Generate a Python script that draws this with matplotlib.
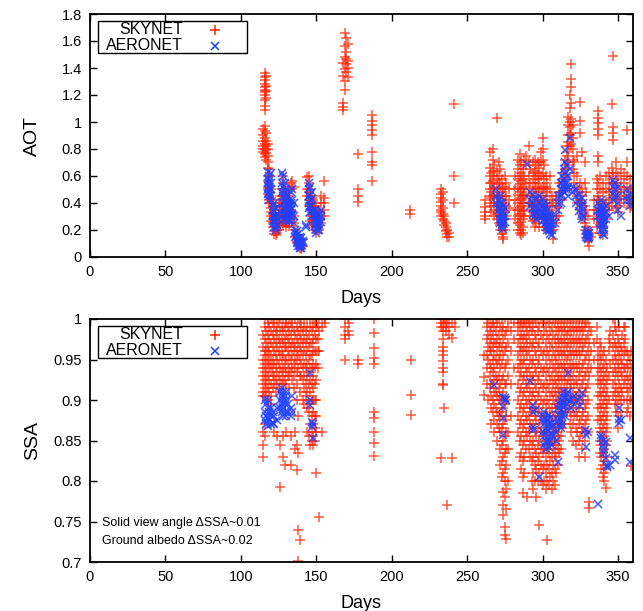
import matplotlib
matplotlib.use("Agg")
import matplotlib.pyplot as plt
from matplotlib.patches import Rectangle
from matplotlib.lines import Line2D

plt.rcParams['font.family'] = ['Liberation Sans', 'DejaVu Sans']

# ---------------- DATA ----------------
# Top panel: AOT, SKYNET (day -> list of values)
sky_aot_days = [115, 116, 117, 118, 119, 120, 121, 122, 123, 124, 125, 126, 127, 128, 129, 130,
                131, 132, 133, 134, 135, 136, 137, 138, 139, 140, 141, 144, 145, 146, 147, 148,
                149, 150, 151, 152, 153, 155, 168, 169, 170, 171, 178, 187, 212, 233, 234, 235,
                236, 237, 238, 241, 262, 265, 266, 267, 268, 270, 271, 272, 273, 274, 275, 276,
                278, 282, 284, 285, 286, 287, 288, 289, 291, 292, 294, 295, 296, 297, 298, 299,
                300, 301, 302, 303, 305, 306, 307, 309, 311, 313, 315, 316, 317, 318, 319, 320,
                321, 323, 325, 326, 328, 329, 330, 331, 332, 334, 336, 337, 338, 340, 342, 344,
                346, 347, 349, 350, 352, 354, 356, 358, 359]
sky_aot_vals = [
    [0.95, 0.9, 0.86, 0.82, 0.8, 0.78],
    [1.36, 1.33, 1.31, 1.28, 1.26, 1.24, 1.22, 1.2, 1.16, 1.12, 1.09, 0.97, 0.93, 0.88, 0.84, 0.8, 0.76, 0.74],
    [1.34, 1.27, 1.23, 1.18, 0.92, 0.86, 0.82, 0.79, 0.77, 0.72],
    [0.84, 0.8, 0.75, 0.7, 0.66, 0.6, 0.56, 0.52, 0.5, 0.47],
    [0.65, 0.6, 0.55, 0.52, 0.48, 0.45, 0.42, 0.4],
    [0.5, 0.44, 0.4, 0.36, 0.33, 0.3, 0.27],
    [0.42, 0.38, 0.32, 0.28, 0.25, 0.22],
    [0.35, 0.3, 0.26, 0.22, 0.19, 0.17],
    [0.3, 0.26, 0.22, 0.19, 0.16],
    [0.25, 0.2, 0.18],
    [0.4, 0.35, 0.3, 0.25, 0.2],
    [0.45, 0.38, 0.32, 0.27, 0.23],
    [0.5, 0.45, 0.4, 0.35, 0.3, 0.27],
    [0.6, 0.55, 0.5, 0.42, 0.35, 0.3, 0.27, 0.24],
    [0.48, 0.4, 0.35, 0.3, 0.26],
    [0.45, 0.4, 0.36, 0.33, 0.28, 0.25, 0.22],
    [0.5, 0.42, 0.37, 0.3, 0.25],
    [0.52, 0.45, 0.4, 0.34, 0.3, 0.26, 0.23],
    [0.55, 0.4, 0.35, 0.3],
    [0.56, 0.5, 0.33, 0.28],
    [0.52, 0.3, 0.25],
    [0.2, 0.15],
    [0.16, 0.12, 0.1],
    [0.14, 0.11, 0.08],
    [0.12, 0.09, 0.07],
    [0.1, 0.07, 0.06],
    [0.13, 0.08],
    [0.59, 0.5, 0.45],
    [0.6, 0.55, 0.48, 0.42, 0.38],
    [0.5, 0.45, 0.4, 0.35, 0.3, 0.27],
    [0.44, 0.38, 0.33, 0.28, 0.24],
    [0.42, 0.36, 0.3, 0.26, 0.22],
    [0.4, 0.35, 0.3, 0.25, 0.2],
    [0.38, 0.33, 0.28, 0.22, 0.18],
    [0.35, 0.3, 0.26, 0.22],
    [0.33, 0.28, 0.24, 0.2],
    [0.45, 0.4, 0.3, 0.25],
    [0.56, 0.44, 0.4, 0.35, 0.3],
    [1.44, 1.34, 1.14, 1.11, 1.09],
    [1.66, 1.56, 1.48, 1.39, 1.3, 1.24],
    [1.62, 1.52, 1.47, 1.43, 1.37],
    [1.58, 1.45, 1.4, 1.33],
    [0.76, 0.5, 0.45, 0.41],
    [1.05, 1.01, 0.98, 0.94, 0.9, 0.78, 0.7, 0.68, 0.56],
    [0.35, 0.32],
    [0.5, 0.47, 0.44, 0.41, 0.38, 0.35, 0.33, 0.3],
    [0.48, 0.42, 0.36, 0.32, 0.28],
    [0.3, 0.27, 0.24],
    [0.25, 0.22, 0.19],
    [0.2, 0.17, 0.15],
    [0.18, 0.15],
    [1.13, 0.6, 0.4],
    [0.42, 0.37, 0.33, 0.3, 0.28],
    [0.78, 0.66, 0.6, 0.55, 0.5, 0.45, 0.4],
    [0.62, 0.55, 0.48, 0.44, 0.38, 0.33],
    [0.8, 0.72, 0.64, 0.56, 0.5, 0.45],
    [0.68, 0.6, 0.52, 0.46, 0.4, 0.35, 0.3],
    [1.03, 0.64, 0.58, 0.5, 0.44, 0.38, 0.32, 0.28],
    [0.7, 0.6, 0.54, 0.45, 0.4, 0.35, 0.3, 0.25],
    [0.65, 0.55, 0.48, 0.4, 0.3, 0.24, 0.2],
    [0.58, 0.5, 0.42, 0.35, 0.25, 0.2, 0.17],
    [0.5, 0.45, 0.3, 0.22, 0.15, 0.13],
    [0.6, 0.52, 0.45, 0.4, 0.33, 0.28, 0.2],
    [0.55, 0.45, 0.38, 0.3],
    [0.5, 0.42, 0.36],
    [0.6, 0.5, 0.42, 0.35, 0.28],
    [0.72, 0.65, 0.58, 0.52, 0.46, 0.4, 0.35, 0.3, 0.25, 0.2],
    [0.76, 0.68, 0.6, 0.54, 0.48, 0.42, 0.36, 0.3, 0.24, 0.18],
    [0.7, 0.62, 0.56, 0.5, 0.44, 0.38, 0.32, 0.26, 0.2, 0.16],
    [0.65, 0.58, 0.5, 0.45, 0.4, 0.34, 0.28, 0.22, 0.18],
    [0.72, 0.6, 0.52, 0.46, 0.4, 0.35, 0.3],
    [0.75, 0.68, 0.55, 0.45],
    [0.82, 0.7, 0.6, 0.5, 0.4],
    [0.65, 0.55, 0.45, 0.38, 0.3],
    [0.7, 0.62, 0.55, 0.48, 0.4, 0.33, 0.27],
    [0.72, 0.64, 0.58, 0.5, 0.42, 0.35, 0.28, 0.22],
    [0.68, 0.6, 0.52, 0.45, 0.38, 0.3, 0.25],
    [0.7, 0.62, 0.55, 0.48, 0.4, 0.32],
    [0.66, 0.58, 0.5, 0.42, 0.35, 0.28, 0.22],
    [0.78, 0.7, 0.6, 0.5, 0.42],
    [0.88, 0.8, 0.72, 0.62, 0.52, 0.45, 0.38, 0.3],
    [0.68, 0.58, 0.5, 0.42, 0.35, 0.28, 0.22],
    [0.6, 0.52, 0.45, 0.38, 0.3, 0.25, 0.2],
    [0.55, 0.48, 0.4, 0.34, 0.28, 0.22],
    [0.6, 0.5, 0.42, 0.35, 0.28, 0.22],
    [0.45, 0.38, 0.3, 0.25, 0.2],
    [0.4, 0.3, 0.2, 0.13],
    [0.45, 0.38, 0.3, 0.25],
    [0.55, 0.48, 0.42, 0.36, 0.3],
    [0.62, 0.55, 0.48, 0.42],
    [0.72, 0.65, 0.58, 0.5],
    [0.82, 0.75, 0.68, 0.6],
    [1.04, 0.98, 0.9, 0.85, 0.78, 0.7],
    [1.2, 1.1, 1.0, 0.96, 0.9, 0.82],
    [1.43, 1.32, 1.26, 1.14, 1.02, 0.92, 0.84],
    [0.98, 0.88, 0.8, 0.72, 0.65],
    [0.7, 0.62, 0.55, 0.5],
    [0.75, 0.6, 0.52, 0.45, 0.4],
    [1.15, 1.01, 0.92, 0.55, 0.48, 0.42, 0.35],
    [0.78, 0.5, 0.45, 0.4, 0.32, 0.28],
    [0.7, 0.55, 0.38, 0.3, 0.25, 0.2],
    [0.48, 0.35, 0.22, 0.17, 0.14],
    [0.3, 0.2, 0.15, 0.12],
    [0.16, 0.13, 0.08],
    [0.18, 0.15],
    [0.42, 0.35, 0.28],
    [0.58, 0.5, 0.42, 0.35, 0.28, 0.22],
    [1.08, 1.03, 0.99, 0.95, 0.9, 0.75, 0.7, 0.55, 0.45, 0.35],
    [0.6, 0.5, 0.42, 0.36, 0.3, 0.24, 0.18],
    [0.55, 0.48, 0.4, 0.34, 0.28, 0.22, 0.16],
    [0.6, 0.5, 0.42, 0.35, 0.28],
    [0.62, 0.55, 0.48, 0.4, 0.35],
    [1.13, 0.66, 0.58, 0.5, 0.44, 0.38],
    [1.49, 0.96, 0.92, 0.87, 0.62, 0.55, 0.46],
    [0.7, 0.62, 0.55, 0.48, 0.42, 0.36],
    [0.6, 0.52, 0.45, 0.38, 0.33],
    [0.65, 0.58, 0.5, 0.43],
    [0.62, 0.55, 0.48, 0.4],
    [0.94, 0.7, 0.6, 0.52, 0.45],
    [0.58, 0.5, 0.42, 0.36],
    [0.5, 0.44, 0.38],
]

# Top panel: AOT, AERONET
aer_aot_days = [118, 119, 120, 121, 122, 123, 124, 127, 128, 129, 130, 131, 132, 133, 134, 135,
                136, 137, 138, 139, 140, 141, 143, 145, 146, 147, 149, 150, 151, 152, 153,
                269, 271, 272, 273, 274, 275, 290, 292, 294, 295, 296, 298, 300, 301, 302,
                303, 304, 305, 306, 308, 310, 312, 313, 314, 315, 316, 317, 318, 320, 322,
                324, 326, 327, 329, 330, 331, 337, 338, 339, 340, 341, 342, 344, 347, 348,
                350, 352, 356, 358]
aer_aot_vals = [
    [0.63, 0.58, 0.55, 0.5, 0.47],
    [0.6, 0.56, 0.52, 0.48, 0.45, 0.42],
    [0.62, 0.55, 0.5, 0.45],
    [0.38, 0.35, 0.3, 0.27],
    [0.4, 0.34, 0.3, 0.25, 0.22],
    [0.36, 0.3, 0.26, 0.22, 0.2],
    [0.32, 0.28, 0.24],
    [0.62, 0.55, 0.48],
    [0.6, 0.52, 0.45, 0.4, 0.35, 0.3],
    [0.55, 0.48, 0.42, 0.36, 0.32, 0.28],
    [0.5, 0.45, 0.4, 0.35, 0.3, 0.27],
    [0.45, 0.4, 0.36, 0.32, 0.28],
    [0.42, 0.38, 0.34, 0.3, 0.27],
    [0.48, 0.4, 0.35, 0.3],
    [0.5, 0.42, 0.36, 0.32],
    [0.4, 0.3, 0.25],
    [0.2, 0.18, 0.15],
    [0.19, 0.16, 0.13, 0.11],
    [0.17, 0.14, 0.12, 0.1, 0.08],
    [0.15, 0.12, 0.1, 0.08, 0.07],
    [0.14, 0.11, 0.09, 0.07],
    [0.12, 0.1],
    [0.24, 0.22],
    [0.55, 0.5, 0.45, 0.4, 0.36],
    [0.52, 0.46, 0.42, 0.38, 0.33],
    [0.48, 0.43, 0.38, 0.34, 0.3],
    [0.35, 0.3, 0.27, 0.23],
    [0.33, 0.28, 0.25, 0.21, 0.18],
    [0.3, 0.26, 0.22, 0.2],
    [0.32, 0.28, 0.24, 0.2],
    [0.35, 0.3, 0.26],
    [0.5, 0.45, 0.4],
    [0.42, 0.38, 0.35],
    [0.45, 0.4, 0.36, 0.32, 0.28, 0.25],
    [0.4, 0.35, 0.3, 0.27, 0.24, 0.22],
    [0.38, 0.33, 0.28, 0.25, 0.21],
    [0.36, 0.3, 0.26],
    [0.69],
    [0.48, 0.42, 0.38],
    [0.46, 0.4, 0.36, 0.32],
    [0.44, 0.38, 0.34, 0.3],
    [0.42, 0.36, 0.32, 0.28],
    [0.45, 0.4, 0.35, 0.3],
    [0.43, 0.38, 0.34, 0.3, 0.27],
    [0.4, 0.36, 0.32, 0.28],
    [0.38, 0.34, 0.3, 0.26, 0.22],
    [0.35, 0.3, 0.26, 0.22, 0.2],
    [0.32, 0.28, 0.24, 0.2],
    [0.3, 0.25, 0.2, 0.17],
    [0.25, 0.2, 0.16],
    [0.3, 0.25],
    [0.45, 0.4, 0.35],
    [0.55, 0.5, 0.45, 0.4],
    [0.6, 0.55, 0.5, 0.46],
    [0.65, 0.58, 0.52, 0.48],
    [0.79, 0.7, 0.62, 0.55, 0.5],
    [0.68, 0.6, 0.55, 0.5],
    [0.6, 0.52, 0.45],
    [0.88, 0.65],
    [0.52, 0.48],
    [0.5, 0.45, 0.4],
    [0.46, 0.42, 0.38, 0.34],
    [0.44, 0.38, 0.32, 0.28],
    [0.4, 0.35, 0.3],
    [0.2, 0.17, 0.15],
    [0.19, 0.16, 0.14, 0.13],
    [0.18, 0.15],
    [0.4, 0.35, 0.3],
    [0.38, 0.34, 0.3, 0.25],
    [0.42, 0.36, 0.32, 0.28, 0.24, 0.2],
    [0.4, 0.35, 0.3, 0.26, 0.22, 0.17],
    [0.36, 0.32, 0.28, 0.24, 0.2, 0.16],
    [0.38, 0.33, 0.28],
    [0.3],
    [0.57, 0.52, 0.47, 0.42],
    [0.55, 0.5, 0.45],
    [0.52, 0.45, 0.4, 0.35],
    [0.3],
    [0.5, 0.45, 0.42],
    [0.47, 0.42, 0.38],
]

# Bottom panel: SSA, SKYNET
sky_ssa_days = [115, 116, 117, 118, 119, 120, 121, 122, 123, 124, 125, 126, 127, 128, 129, 130,
                131, 132, 133, 134, 135, 136, 137, 138, 139, 140, 141, 142, 143, 144, 145, 146,
                147, 148, 149, 150, 151, 152, 154, 156, 169, 171, 172, 178, 188, 213, 233, 234,
                235, 236, 237, 238, 240, 242,
                261, 263, 264, 265, 266, 267, 268, 269, 270, 271, 272, 273, 274, 275, 276, 277,
                279, 281, 284, 285, 286, 287, 288, 289, 290, 291, 292, 293, 294, 295, 296, 297,
                298, 299, 300, 301, 302, 303, 304, 305, 306, 307, 308, 309, 310, 311, 312, 313,
                314, 315, 316, 317, 318, 319, 320, 321, 322, 323, 324, 325, 326, 327, 328, 329,
                330, 331, 332, 334, 336, 337, 338, 339, 340, 341, 342, 343, 344, 345, 347, 348,
                349, 350, 351, 352, 353, 354, 355, 356, 357, 358, 359]
sky_ssa_vals = [
    [0.98, 0.965, 0.95, 0.94, 0.93, 0.92, 0.91, 0.905, 0.86, 0.845, 0.83],
    [1.0, 0.99, 0.975, 0.96, 0.955, 0.945, 0.935, 0.925, 0.915, 0.905, 0.87, 0.855],
    [0.985, 0.97, 0.96, 0.95, 0.94, 0.93, 0.92, 0.91],
    [1.0, 0.995, 0.98, 0.965, 0.955, 0.945, 0.93, 0.915, 0.9],
    [0.99, 0.975, 0.96, 0.95, 0.94, 0.925, 0.91],
    [1.0, 0.985, 0.97, 0.955, 0.945, 0.935, 0.92, 0.905, 0.895],
    [0.995, 0.98, 0.965, 0.95, 0.94, 0.93, 0.915],
    [1.0, 0.99, 0.975, 0.96, 0.945, 0.93, 0.92, 0.86],
    [0.985, 0.97, 0.955, 0.94, 0.925, 0.91],
    [1.0, 0.99, 0.98, 0.965, 0.95, 0.935, 0.92, 0.855],
    [0.995, 0.975, 0.96, 0.945, 0.93, 0.915],
    [1.0, 0.985, 0.97, 0.955, 0.94, 0.925, 0.845, 0.793],
    [0.99, 0.975, 0.96, 0.95, 0.935, 0.92],
    [1.0, 0.985, 0.97, 0.955, 0.94, 0.93, 0.92, 0.855, 0.83],
    [0.99, 0.975, 0.965, 0.95, 0.94, 0.925, 0.82],
    [1.0, 0.995, 0.98, 0.965, 0.95, 0.935, 0.92, 0.86],
    [0.99, 0.975, 0.96, 0.945, 0.93],
    [1.0, 0.985, 0.97, 0.955, 0.94, 0.93, 0.915],
    [0.995, 0.98, 0.965, 0.95, 0.935, 0.855, 0.82],
    [1.0, 0.99, 0.97, 0.955, 0.94, 0.925],
    [0.985, 0.97, 0.96, 0.945, 0.93, 0.915],
    [1.0, 0.98, 0.965, 0.95, 0.94, 0.86, 0.84],
    [0.99, 0.975, 0.96, 0.95, 0.935, 0.92, 0.9, 0.845, 0.813],
    [1.0, 0.985, 0.97, 0.955, 0.94, 0.88, 0.835, 0.74, 0.701],
    [0.995, 0.98, 0.965, 0.95, 0.93, 0.91, 0.727],
    [1.0, 0.99, 0.975, 0.96, 0.945, 0.93],
    [0.985, 0.97, 0.955, 0.94, 0.925, 0.9],
    [1.0, 0.99, 0.975, 0.96, 0.945, 0.93, 0.915, 0.895],
    [0.985, 0.97, 0.955, 0.94, 0.92, 0.905],
    [1.0, 0.99, 0.975, 0.96, 0.945, 0.93, 0.91, 0.89, 0.86],
    [0.98, 0.965, 0.95, 0.935, 0.92, 0.9, 0.885, 0.855],
    [1.0, 0.99, 0.97, 0.955, 0.94, 0.925, 0.91, 0.895, 0.87, 0.845],
    [0.985, 0.97, 0.955, 0.94, 0.92, 0.9, 0.88, 0.86, 0.85],
    [1.0, 0.99, 0.975, 0.96, 0.945, 0.93, 0.915, 0.9, 0.885, 0.87, 0.855, 0.845],
    [0.995, 0.98, 0.96, 0.94, 0.92, 0.9, 0.88, 0.865, 0.85],
    [1.0, 0.99, 0.975, 0.96, 0.945, 0.925, 0.9, 0.88, 0.86, 0.81],
    [0.99, 0.975, 0.96, 0.94],
    [1.0, 0.985, 0.96, 0.756],
    [1.0, 0.99, 0.86],
    [1.0, 0.995],
    [1.0, 0.99, 0.98, 0.975, 0.95],
    [1.0, 0.985],
    [0.995, 0.98],
    [0.95, 0.945],
    [1.0, 0.983, 0.964, 0.952, 0.945, 0.885, 0.878, 0.86, 0.847, 0.831],
    [0.95, 0.906, 0.881],
    [1.0, 0.995, 0.99, 0.828],
    [1.0, 0.99, 0.985, 0.975, 0.965, 0.96, 0.955, 0.948, 0.94, 0.935, 0.92, 0.918],
    [1.0, 0.995, 0.89],
    [1.0, 0.99, 0.985],
    [0.995, 0.77],
    [1.0, 0.99, 0.98],
    [0.995, 0.977, 0.828],
    [1.0, 0.99],
    [0.955, 0.929, 0.906],
    [1.0, 0.99, 0.975, 0.955, 0.94, 0.92],
    [0.995, 0.98, 0.965, 0.95, 0.9],
    [1.0, 0.985, 0.97, 0.96, 0.945, 0.93, 0.915],
    [0.99, 0.975, 0.96, 0.94, 0.92, 0.905, 0.89, 0.87],
    [1.0, 0.995, 0.98, 0.965, 0.95, 0.935, 0.92, 0.9, 0.885],
    [0.99, 0.97, 0.955, 0.94, 0.925, 0.91, 0.895, 0.875, 0.86],
    [1.0, 0.985, 0.97, 0.95, 0.93, 0.91, 0.89],
    [0.995, 0.975, 0.96, 0.945, 0.925, 0.905, 0.885, 0.87, 0.85],
    [1.0, 0.98, 0.965, 0.95, 0.93, 0.915, 0.9, 0.88, 0.865],
    [0.99, 0.97, 0.955, 0.94, 0.92, 0.9, 0.88, 0.86, 0.84, 0.82],
    [1.0, 0.985, 0.965, 0.945, 0.925, 0.905, 0.885, 0.865, 0.845, 0.825, 0.805],
    [0.99, 0.975, 0.955, 0.93, 0.91, 0.89, 0.87, 0.85, 0.83, 0.81, 0.787, 0.77, 0.758],
    [1.0, 0.98, 0.96, 0.94, 0.92, 0.895, 0.875, 0.855, 0.835, 0.815, 0.8, 0.78, 0.743, 0.733],
    [0.985, 0.965, 0.945, 0.92, 0.9, 0.88, 0.86, 0.84, 0.82, 0.79, 0.765, 0.728],
    [1.0, 0.99, 0.97, 0.95, 0.93, 0.86, 0.84, 0.8],
    [1.0, 0.985, 0.96, 0.92, 0.88],
    [0.995, 0.975, 0.94],
    [1.0, 0.995, 0.985, 0.97, 0.955, 0.94, 0.92, 0.9, 0.88, 0.86],
    [1.0, 0.99, 0.975, 0.96, 0.945, 0.93, 0.91, 0.89, 0.87, 0.85, 0.83],
    [1.0, 0.995, 0.98, 0.965, 0.95, 0.935, 0.915, 0.895, 0.875, 0.855, 0.835, 0.815],
    [1.0, 0.99, 0.975, 0.96, 0.945, 0.925, 0.905, 0.885, 0.865, 0.845, 0.825, 0.805, 0.785],
    [1.0, 0.995, 0.98, 0.965, 0.95, 0.93, 0.91, 0.89, 0.87, 0.85, 0.83, 0.81],
    [1.0, 0.99, 0.975, 0.96, 0.94, 0.92, 0.9, 0.88, 0.86, 0.84],
    [1.0, 0.985, 0.97, 0.955, 0.935, 0.915, 0.895, 0.875, 0.855, 0.78],
    [1.0, 0.995, 0.98, 0.96, 0.94, 0.92, 0.9, 0.88, 0.86, 0.84],
    [1.0, 0.99, 0.97, 0.95, 0.93, 0.91, 0.89, 0.87, 0.85, 0.83],
    [1.0, 0.985, 0.965, 0.945, 0.925, 0.905, 0.885, 0.865, 0.845, 0.825, 0.8],
    [1.0, 0.99, 0.97, 0.95, 0.93, 0.91, 0.89, 0.87, 0.85, 0.83, 0.81, 0.79],
    [1.0, 0.98, 0.96, 0.94, 0.92, 0.9, 0.88, 0.86, 0.84, 0.82, 0.8],
    [0.995, 0.975, 0.955, 0.935, 0.915, 0.895, 0.875, 0.855, 0.835, 0.815, 0.78],
    [1.0, 0.985, 0.965, 0.945, 0.925, 0.905, 0.885, 0.865, 0.845, 0.825, 0.8],
    [0.99, 0.97, 0.95, 0.93, 0.91, 0.89, 0.87, 0.85, 0.83, 0.81, 0.746],
    [1.0, 0.98, 0.96, 0.94, 0.92, 0.9, 0.88, 0.86, 0.84, 0.82, 0.8],
    [0.995, 0.975, 0.955, 0.935, 0.915, 0.895, 0.875, 0.855, 0.835, 0.815, 0.795],
    [1.0, 0.985, 0.96, 0.94, 0.92, 0.9, 0.88, 0.86, 0.84, 0.82, 0.8],
    [0.99, 0.97, 0.95, 0.93, 0.91, 0.89, 0.87, 0.85, 0.83, 0.81, 0.79],
    [1.0, 0.98, 0.96, 0.94, 0.92, 0.9, 0.88, 0.86, 0.84, 0.82, 0.8, 0.727],
    [0.995, 0.975, 0.955, 0.935, 0.915, 0.895, 0.875, 0.855, 0.835, 0.815, 0.795],
    [1.0, 0.985, 0.965, 0.945, 0.925, 0.905, 0.885, 0.865, 0.845, 0.825, 0.805],
    [0.99, 0.97, 0.95, 0.93, 0.91, 0.89, 0.87, 0.85, 0.83, 0.81, 0.79],
    [1.0, 0.98, 0.96, 0.94, 0.92, 0.9, 0.88, 0.86, 0.84, 0.82, 0.8],
    [0.995, 0.975, 0.955, 0.94, 0.925, 0.91, 0.895, 0.88, 0.865, 0.85, 0.835, 0.815, 0.795],
    [1.0, 0.985, 0.965, 0.95, 0.935, 0.92, 0.905, 0.89, 0.875, 0.86, 0.845, 0.83, 0.81],
    [1.0, 0.99, 0.975, 0.96, 0.945, 0.93, 0.915, 0.9, 0.885, 0.87, 0.855, 0.84, 0.82],
    [1.0, 0.985, 0.97, 0.955, 0.94, 0.925, 0.91, 0.895, 0.88, 0.865, 0.85, 0.835],
    [1.0, 0.99, 0.975, 0.96, 0.945, 0.93, 0.915, 0.9, 0.885, 0.87, 0.855, 0.84],
    [1.0, 0.985, 0.97, 0.955, 0.94, 0.925, 0.91, 0.895, 0.88, 0.865],
    [1.0, 0.99, 0.975, 0.96, 0.945, 0.93, 0.915, 0.9, 0.885, 0.87],
    [1.0, 0.985, 0.97, 0.955, 0.94, 0.925, 0.91, 0.895],
    [0.995, 0.98, 0.965, 0.95, 0.935, 0.92, 0.905, 0.89],
    [1.0, 0.985, 0.97, 0.955, 0.94, 0.925],
    [1.0, 0.99, 0.975, 0.96, 0.945, 0.93, 0.915, 0.9, 0.885, 0.87],
    [1.0, 0.985, 0.97, 0.955, 0.94, 0.92, 0.9, 0.88, 0.86],
    [1.0, 0.99, 0.975, 0.96, 0.945, 0.93, 0.91, 0.89, 0.87, 0.85],
    [1.0, 0.985, 0.97, 0.955, 0.94, 0.92, 0.9, 0.88],
    [1.0, 0.99, 0.975, 0.96, 0.945, 0.925, 0.905, 0.885, 0.865, 0.845],
    [1.0, 0.985, 0.97, 0.955, 0.94, 0.92, 0.9, 0.88, 0.86],
    [1.0, 0.99, 0.975, 0.96, 0.945, 0.93, 0.91, 0.89, 0.87, 0.85, 0.83],
    [1.0, 0.985, 0.97, 0.955, 0.935, 0.915, 0.895, 0.875, 0.855],
    [1.0, 0.99, 0.975, 0.96, 0.94, 0.92, 0.9, 0.88, 0.86, 0.84],
    [1.0, 0.985, 0.965, 0.945, 0.925, 0.905, 0.885, 0.865],
    [1.0, 0.99, 0.97, 0.95, 0.93, 0.91, 0.89, 0.87, 0.85, 0.83],
    [0.995, 0.975, 0.955, 0.935, 0.915, 0.895, 0.875],
    [1.0, 0.98, 0.96, 0.94, 0.92, 0.9, 0.88, 0.86],
    [0.99, 0.97, 0.95, 0.93, 0.774, 0.767],
    [0.985, 0.96, 0.94],
    [0.97, 0.95],
    [0.99, 0.975],
    [0.96, 0.95, 0.94, 0.93, 0.92, 0.905, 0.89, 0.875],
    [0.97, 0.955, 0.94, 0.925, 0.91, 0.895, 0.88, 0.865, 0.85, 0.835],
    [0.965, 0.95, 0.935, 0.92, 0.905, 0.89, 0.875, 0.86, 0.845, 0.83, 0.815],
    [0.955, 0.94, 0.925, 0.91, 0.895, 0.88, 0.865, 0.85, 0.835, 0.82, 0.805],
    [0.96, 0.945, 0.93, 0.915, 0.9, 0.885, 0.87, 0.855, 0.84, 0.825, 0.81, 0.8],
    [0.95, 0.935, 0.92, 0.905, 0.89, 0.875, 0.86, 0.845, 0.83, 0.815, 0.791],
    [0.94, 0.925, 0.91, 0.895, 0.88, 0.865, 0.85],
    [0.975, 0.96, 0.93, 0.9],
    [0.985, 0.97, 0.945],
    [1.0, 0.98, 0.965, 0.95, 0.935, 0.92, 0.905],
    [1.0, 0.99, 0.97, 0.955, 0.94, 0.925, 0.91, 0.895],
    [0.985, 0.965, 0.95, 0.935, 0.915, 0.9, 0.885],
    [0.975, 0.96, 0.945, 0.93, 0.91, 0.895, 0.88, 0.865],
    [0.99, 0.97, 0.955, 0.94, 0.92, 0.905],
    [0.965, 0.95, 0.935, 0.915, 0.9, 0.885],
    [0.98, 0.96, 0.945, 0.93, 0.91],
    [0.99, 0.97, 0.955, 0.94, 0.92, 0.9],
    [0.99, 0.975, 0.96, 0.94, 0.925],
    [0.96, 0.945, 0.93, 0.915, 0.9, 0.885],
    [0.955, 0.94, 0.925, 0.91, 0.89],
    [0.95, 0.93, 0.915, 0.9, 0.88],
    [0.96, 0.94, 0.92, 0.9, 0.818],
]

# Bottom panel: SSA, AERONET
aer_ssa_days = [116, 117, 118, 119, 120, 121, 122, 124, 126, 127, 128, 129, 130, 131, 133, 134,
                146, 147, 148, 268, 274, 275, 276, 292, 294, 295, 298, 300, 301, 302, 303, 304,
                305, 306, 307, 309, 310, 311, 312, 313, 314, 315, 316, 317, 319, 321, 323, 325,
                326, 328, 329, 330, 337, 339, 340, 341, 342, 343, 345, 348, 351, 352, 358]
aer_ssa_vals = [
    [0.9, 0.885, 0.875],
    [0.895, 0.88, 0.87],
    [0.9, 0.89, 0.878, 0.868],
    [0.885, 0.875],
    [0.89, 0.88, 0.87],
    [0.885, 0.872],
    [0.88, 0.87],
    [0.89, 0.875],
    [0.91, 0.9, 0.89],
    [0.915, 0.905, 0.895, 0.885],
    [0.91, 0.9, 0.89, 0.88],
    [0.905, 0.895, 0.885],
    [0.91, 0.9, 0.88],
    [0.895, 0.885],
    [0.89, 0.88],
    [0.905, 0.885],
    [0.933, 0.9, 0.894],
    [0.873, 0.867],
    [0.87, 0.853],
    [0.918],
    [0.904, 0.891, 0.878, 0.857],
    [0.902, 0.9],
    [0.9],
    [0.923],
    [0.894, 0.885, 0.867, 0.863],
    [0.888],
    [0.805],
    [0.88, 0.875, 0.86],
    [0.885, 0.87, 0.855, 0.845],
    [0.878, 0.865, 0.85, 0.84],
    [0.875, 0.862, 0.848],
    [0.882, 0.87, 0.855, 0.842],
    [0.878, 0.865, 0.85],
    [0.872, 0.858, 0.845],
    [0.868, 0.855],
    [0.86, 0.85],
    [0.89, 0.875, 0.823],
    [0.895, 0.882, 0.87],
    [0.9, 0.888, 0.875, 0.865],
    [0.905, 0.893, 0.88, 0.87],
    [0.91, 0.897, 0.885],
    [0.903, 0.892, 0.88],
    [0.908, 0.895],
    [0.933, 0.91, 0.9],
    [0.9, 0.89],
    [0.905, 0.895],
    [0.9],
    [0.903, 0.893],
    [0.909],
    [0.863],
    [0.857, 0.842],
    [0.86],
    [0.771],
    [0.857, 0.853],
    [0.85, 0.845],
    [0.84, 0.834],
    [0.848, 0.828],
    [0.817, 0.82],
    [0.82],
    [0.832, 0.826],
    [0.89, 0.876, 0.872],
    [0.875],
    [0.853, 0.823],
]

legend_labels = ["SKYNET", "AERONET"]
x_ticks = [0, 50, 100, 150, 200, 250, 300, 350]
aot_ticks = [0, 0.2, 0.4, 0.6, 0.8, 1.0, 1.2, 1.4, 1.6, 1.8]
ssa_ticks = [0.7, 0.75, 0.8, 0.85, 0.9, 0.95, 1.0]
notes = ["Solid view angle \u0394SSA~0.01", "Ground albedo \u0394SSA~0.02"]

RED = '#ff2200'
BLUE = '#2040ff'
PLUS_MS = 7.5
X_MS = 6.0


def flatten(days, vals):
    xs, ys = [], []
    for d, vs in zip(days, vals):
        for v in vs:
            xs.append(d)
            ys.append(v)
    return xs, ys


fig = plt.figure(figsize=(6.43, 6.11), dpi=100)
ax1 = fig.add_axes([90 / 643, 1 - 257 / 611, 543 / 643, 243 / 611])
ax2 = fig.add_axes([90 / 643, 1 - 562 / 611, 543 / 643, 243 / 611])

panels = [
    (ax1, sky_aot_days, sky_aot_vals, aer_aot_days, aer_aot_vals, (0, 1.8), aot_ticks, "AOT"),
    (ax2, sky_ssa_days, sky_ssa_vals, aer_ssa_days, aer_ssa_vals, (0.7, 1.0), ssa_ticks, "SSA"),
]

for ax, sd, sv, ad, av, ylim, yt, ylab in panels:
    sx, sy = flatten(sd, sv)
    axx, ayy = flatten(ad, av)
    ax.plot(sx, sy, linestyle='none', marker='+', color=RED, markersize=PLUS_MS,
            markeredgewidth=1.1, alpha=0.75, clip_on=True)
    ax.plot(axx, ayy, linestyle='none', marker='x', color=BLUE, markersize=X_MS,
            markeredgewidth=1.1, alpha=0.85, clip_on=True)
    ax.set_xlim(0, 360)
    ax.set_ylim(*ylim)
    ax.set_xticks(x_ticks)
    ax.set_xticklabels([str(t) for t in x_ticks], fontsize=10.5)
    ax.set_yticks(yt)
    ax.set_yticklabels(['%g' % t for t in yt], fontsize=10.5)
    ax.tick_params(direction='in', top=True, right=True, length=5, width=1.0, pad=6)
    for sp in ax.spines.values():
        sp.set_linewidth(1.3)
    ax.set_xlabel("Days", fontsize=13, labelpad=8)
    ax.set_ylabel(ylab, fontsize=14)

    # gnuplot-style key box
    box = Rectangle((0.015, 0.84), 0.274, 0.131, transform=ax.transAxes,
                    facecolor='white', edgecolor='black', linewidth=1.0, zorder=5)
    ax.add_patch(box)
    ax.text(0.171, 0.935, legend_labels[0], transform=ax.transAxes, ha='right', va='center',
            fontsize=11.5, zorder=6)
    ax.text(0.171, 0.87, legend_labels[1], transform=ax.transAxes, ha='right', va='center',
            fontsize=11.5, zorder=6)
    ax.add_line(Line2D([0.231], [0.935], transform=ax.transAxes, marker='+', color=RED,
                       markersize=PLUS_MS, markeredgewidth=1.1, linestyle='none', zorder=6))
    ax.add_line(Line2D([0.231], [0.87], transform=ax.transAxes, marker='x', color=BLUE,
                       markersize=X_MS, markeredgewidth=1.1, linestyle='none', zorder=6))
    ax.yaxis.set_label_coords(-0.09, 0.5)

ax2.text(0.022, 0.16, notes[0], transform=ax2.transAxes, fontsize=9, va='center', ha='left')
ax2.text(0.022, 0.086, notes[1], transform=ax2.transAxes, fontsize=9, va='center', ha='left')

fig.savefig("out.png", dpi=100)
